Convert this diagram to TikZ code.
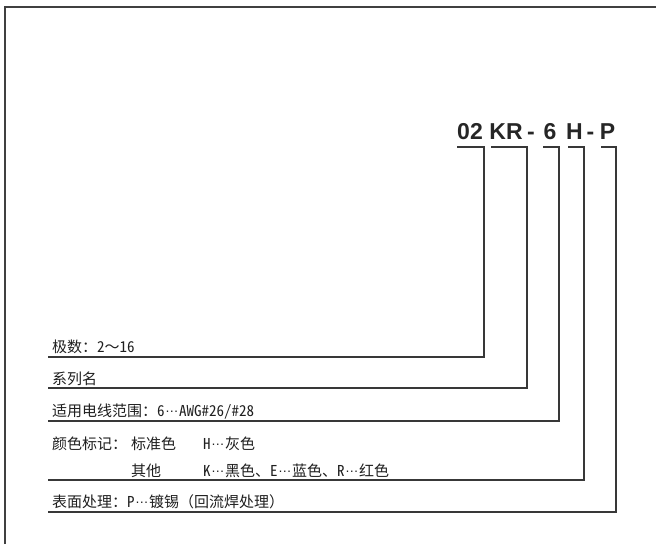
\documentclass[tikz,border=0pt]{standalone}
\usepackage{fontspec}
\setmainfont{Liberation Sans}
\newfontfamily\cjk{Noto Sans CJK SC}
\newfontfamily\cjkh[RawFeature=+hwid]{Noto Sans CJK SC}
\newfontfamily\latn{Liberation Sans}
\newcommand{\hw}[1]{{\cjkh #1}}
\newcommand{\dts}{\hbox to 14.5pt{\hss{\latn\fontsize{13.5}{13.5}\selectfont\raisebox{3.6pt}{…}}\hss}}
\begin{document}
\begin{tikzpicture}[x=1pt,y=-1pt,
  lbl/.style={anchor=base west, inner sep=0pt, font=\cjk\fontsize{15}{18}\selectfont, text=black!88},
  code/.style={anchor=base, inner sep=0pt, font=\fontsize{23}{26}\selectfont\bfseries, text=black!85},
  ln/.style={draw=black!78, line width=1.1pt},
  frameline/.style={draw=black!75, line width=1.6pt}]
\useasboundingbox (0,0) rectangle (656,544);
% outer frame (cropped)
\draw[frameline] (5,544) -- (5,7) -- (656,7);
% part number
\node[code] (c1) at (470,139) {02};
\node[code] (c2) at (506,139) {KR};
\node[code] (c3) at (531,139) {-};
\node[code] (c4) at (550,139) {6};
\node[code] (c5) at (574.5,139) {H};
\node[code] (c6) at (590.5,139) {-};
\node[code] (c7) at (607.5,139) {P};
% bracket tops
\coordinate (b1) at (457,147); \coordinate (e1) at (484,147);
\coordinate (b2) at (491,147); \coordinate (e2) at (527,147);
\coordinate (b3) at (543,147); \coordinate (e3) at (559,147);
\coordinate (b4) at (568,147); \coordinate (e4) at (584,147);
\coordinate (b5) at (601,147); \coordinate (e5) at (616,147);
% row line ends
\coordinate (r1) at (48,357);
\coordinate (r2) at (48,388);
\coordinate (r3) at (48,421);
\coordinate (r4) at (48,480);
\coordinate (r5) at (48,512);
% labels
\node[lbl] (l1) at (52,352) {极数：\hw{2}～\hw{16}};
\node[lbl] (l2) at (52,384) {系列名};
\node[lbl] (l3) at (52,416) {适用电线范围：\hw{6}\dts\hw{AWG\#26/\#28}};
\node[lbl] (l4a) at (52,449) {颜色标记：};
\node[lbl] (l4b) at (131,449) {标准色};
\node[lbl] (l4c) at (203,449) {\hw{H}\dts 灰色};
\node[lbl] (l4d) at (131,476) {其他};
\node[lbl] (l4e) at (203,476) {\hw{K}\dts 黑色、\hw{E}\dts 蓝色、\hw{R}\dts 红色};
\node[lbl] (l5) at (52,507) {表面处理：\hw{P}\dts 镀锡（回流焊处理）};
% connectors
\draw[ln] (b1) -- (e1) |- (r1);
\draw[ln] (b2) -- (e2) |- (r2);
\draw[ln] (b3) -- (e3) |- (r3);
\draw[ln] (b4) -- (e4) |- (r4);
\draw[ln] (b5) -- (e5) |- (r5);
\end{tikzpicture}
\end{document}
